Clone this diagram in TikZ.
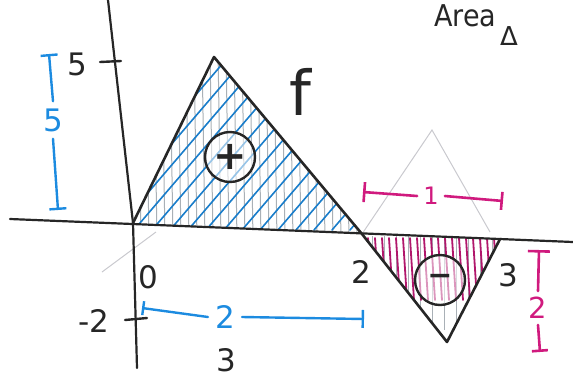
\documentclass[tikz,border=0pt]{standalone}
\usepackage{fontspec}
\setmainfont{DejaVu Sans}
\usetikzlibrary{arrows.meta}
\definecolor{sketchink}{HTML}{262626}
\definecolor{sketchblue}{HTML}{1C8BE0}
\definecolor{sketchpink}{HTML}{D01A7E}
\definecolor{sketchgray}{HTML}{A9B0B6}
\definecolor{sketchfaint}{HTML}{C9C9CE}
\tikzset{
  inklabel/.style={font=\fontsize{31}{31}\selectfont, text=sketchink, inner sep=1pt},
  flabel/.style={font=\fontsize{62}{62}\selectfont, text=sketchink, inner sep=1pt},
  bluelabel/.style={font=\fontsize{31}{31}\selectfont, text=sketchblue, inner sep=7pt},
  pinklabel/.style={font=\fontsize{29}{29}\selectfont, text=sketchpink, inner sep=6pt},
  axisline/.style={draw=sketchink, line width=2.2pt, line cap=round, line join=round},
  graphline/.style={draw=sketchink, line width=2.6pt, line cap=round, line join=round},
  tickmark/.style={draw=sketchink, line width=2.4pt, line cap=round},
  faintline/.style={draw=sketchfaint, line width=1pt},
  grayhatch/.style={draw=sketchgray, line width=1pt},
  bluehatch/.style={draw=sketchblue!90!black, line width=1.6pt, line cap=round},
  pinkhatch/.style={draw=sketchpink!85!black, line width=1.8pt, line cap=round},
  bluedim/.style={draw=sketchblue, line width=2.4pt, line cap=round},
  pinkdim/.style={draw=sketchpink, line width=2.6pt, line cap=round},
  signcircle/.style={circle, draw=sketchink, line width=2.4pt, minimum size=50pt,
    inner sep=0pt, fill=white, fill opacity=.55, text opacity=1,
    font=\fontsize{40}{40}\selectfont\bfseries, text=sketchink}
}

\begin{document}
\begin{tikzpicture}[x=1pt,y=-1pt]
  \useasboundingbox (0,0) rectangle (573,381);
  % points of the sketch, in pixels from the top left
  \coordinate (O) at (133,223);
  \coordinate (P) at (214,57);
  \coordinate (Z2) at (362,234);
  \coordinate (Q) at (447,342);
  \coordinate (Z3) at (500,239);
  \coordinate (R) at (432,130);
  \coordinate (Rr) at (490,232);
  \coordinate (xl) at (10,219);
  \coordinate (xr) at (573,242);
  \coordinate (yt) at (108,0);
  \coordinate (yb) at (137,368);

  % faint pencil strokes
  \draw[faintline] (Z2) -- (R) -- (Rr);
  \coordinate (fa) at (102,272);
  \coordinate (fb) at (156,232);
  \draw[faintline] (fa) -- (fb);

  % shading of the positive part
  \begin{scope}
    \clip (O) -- (P) -- (Z2) -- cycle;
    \foreach \x in {138,146,...,362} \draw[grayhatch] (\x,50) -- (\x+3,240);
    \foreach \x in {-100,-82,...,380} \draw[bluehatch] (\x,230) -- ++(150,-175);
  \end{scope}
  % shading of the negative part
  \begin{scope}
    \clip (Z2) -- (Z3) -- (Q) -- cycle;
    \foreach \x in {372,384,...,500} \draw[grayhatch] (\x,236) -- (\x,330);
    \foreach \x in {368,375,...,500} \draw[pinkhatch] (\x,238) -- (\x+4,300);
  \end{scope}

  % axes and ticks
  \draw[axisline] (xl) -- (xr);
  \draw[axisline] (yt) -- (O) -- (yb);
  \coordinate (t5l) at (100,62);
  \coordinate (t5r) at (121,61);
  \coordinate (tm2l) at (125,320);
  \coordinate (tm2r) at (147,318);
  \draw[tickmark] (t5l) -- (t5r);
  \draw[tickmark] (tm2l) -- (tm2r);

  % the function
  \draw[graphline] (O) -- (P) -- (Z2) -- (Q) -- (Z3);
  \node[signcircle] (plus) at (230,157) {+};
  \node[signcircle, font=\fontsize{30}{30}\selectfont\bfseries] (minus) at (440,280) {−};

  % axis labels
  \node[inklabel] (lab5) at (77,64) {5};
  \node[inklabel] (labm2) at (94,321) {-2};
  \node[inklabel] (lab0) at (148,277) {0};
  \node[inklabel] (lab2) at (361,272) {2};
  \node[inklabel] (lab3) at (508,275) {3};
  \node[inklabel] (lab3b) at (226,360) {3};
  \node[flabel] (labf) at (300,92) {f};
  \node[inklabel, font=\fontsize{30}{30}\selectfont, anchor=base west, xscale=.9]
    (area) at (433,26) {Area};
  \node[inklabel, font=\fontsize{26}{26}\selectfont] (delta) at (509,36) {Δ};

  % blue measures: height 5, width 2
  \coordinate (v5top) at (49,54);
  \coordinate (v5bot) at (58,210);
  \node[bluelabel] (blue5) at (53,120) {5};
  \draw[bluedim, {Bar[width=17pt]}-] (v5top) -- (blue5.north);
  \draw[bluedim, -{Bar[width=17pt]}] (blue5.south) -- (v5bot);
  \coordinate (h2l) at (142,308);
  \coordinate (h2r) at (364,319);
  \node[bluelabel] (blue2) at (225,317) {2};
  \draw[bluedim, {Bar[width=14pt]}-] (h2l) -- (blue2.west);
  \draw[bluedim, -{Bar[width=18pt]}] (blue2.east) -- (h2r);

  % pink measures: width 1, depth 2
  \coordinate (h1l) at (363,192);
  \coordinate (h1r) at (503,201);
  \node[pinklabel, font=\fontsize{24}{24}\selectfont] (pink1) at (431,196) {1};
  \draw[pinkdim, {Bar[width=20pt]}-] (h1l) -- (pink1.west);
  \draw[pinkdim, -{Bar[width=18pt]}] (pink1.east) -- (h1r);
  \coordinate (v2top) at (539,250);
  \coordinate (v2bot) at (540,352);
  \node[pinklabel] (pink2) at (538,308) {2};
  \draw[pinkdim, {Bar[width=22pt]}-] (v2top) -- (pink2.north);
  \draw[pinkdim, -{Bar[width=16pt]}] (pink2.south) -- (v2bot);
\end{tikzpicture}
\end{document}
